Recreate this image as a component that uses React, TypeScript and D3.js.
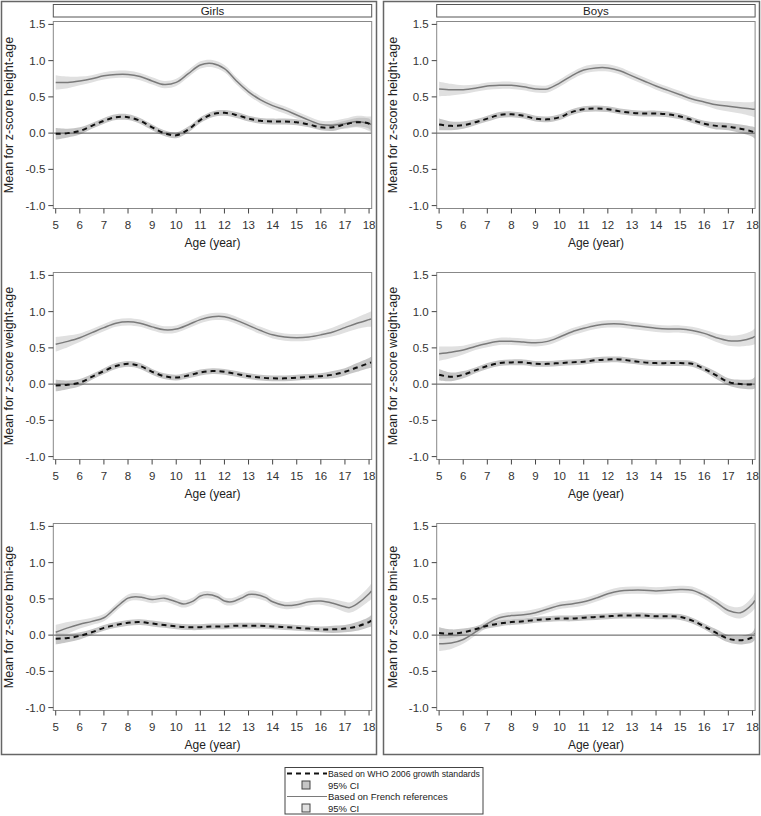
import React from "react";
import * as d3 from "d3";

// ---- data ----
const ages = [5, 5.5, 6, 6.5, 7, 7.5, 8, 8.5, 9, 9.5, 10, 10.5, 11, 11.5, 12, 12.5, 13, 13.5, 14, 14.5, 15, 15.5, 16, 16.5, 17, 17.5, 18, 18.1];
const xTicks = [5, 6, 7, 8, 9, 10, 11, 12, 13, 14, 15, 16, 17, 18];
const yTicks = [-1.0, -0.5, 0.0, 0.5, 1.0, 1.5];
const sexes = ["Girls", "Boys"];
const yLabels = ["Mean for z-score height-age", "Mean for z-score weight-age", "Mean for z-score bmi-age"];

const girlsHeightFrench = [0.70, 0.70, 0.72, 0.75, 0.79, 0.81, 0.81, 0.78, 0.72, 0.67, 0.70, 0.82, 0.94, 0.96, 0.89, 0.72, 0.57, 0.46, 0.38, 0.32, 0.25, 0.18, 0.12, 0.11, 0.13, 0.16, 0.13, 0.12];
const girlsHeightWho = [-0.01, 0.00, 0.03, 0.10, 0.17, 0.22, 0.22, 0.17, 0.08, 0.00, -0.03, 0.05, 0.18, 0.26, 0.28, 0.25, 0.20, 0.17, 0.16, 0.16, 0.15, 0.12, 0.08, 0.08, 0.12, 0.15, 0.13, 0.08];
const girlsWeightFrench = [0.55, 0.59, 0.64, 0.71, 0.78, 0.84, 0.86, 0.84, 0.79, 0.75, 0.76, 0.82, 0.89, 0.93, 0.93, 0.88, 0.81, 0.74, 0.68, 0.65, 0.64, 0.65, 0.68, 0.72, 0.78, 0.84, 0.89, 0.90];
const girlsWeightWho = [-0.02, -0.01, 0.02, 0.10, 0.18, 0.25, 0.28, 0.25, 0.17, 0.11, 0.09, 0.12, 0.16, 0.18, 0.17, 0.14, 0.11, 0.09, 0.08, 0.08, 0.09, 0.10, 0.11, 0.13, 0.17, 0.23, 0.29, 0.30];
const girlsBmiFrenchAges = [5, 5.5, 6, 6.5, 7, 7.5, 8, 8.3, 8.6, 9, 9.5, 10, 10.3, 10.7, 11, 11.3, 11.7, 12, 12.3, 12.7, 13, 13.3, 13.7, 14, 14.5, 15, 15.5, 16, 16.5, 17, 17.2, 17.5, 18, 18.1];
const girlsBmiFrench = [0.04, 0.10, 0.15, 0.19, 0.24, 0.38, 0.51, 0.53, 0.52, 0.49, 0.51, 0.46, 0.43, 0.47, 0.54, 0.56, 0.53, 0.47, 0.46, 0.51, 0.56, 0.56, 0.52, 0.46, 0.41, 0.42, 0.46, 0.47, 0.44, 0.39, 0.38, 0.43, 0.57, 0.61];
const girlsBmiWho = [-0.05, -0.04, -0.01, 0.04, 0.10, 0.14, 0.17, 0.18, 0.16, 0.14, 0.12, 0.11, 0.11, 0.12, 0.12, 0.13, 0.13, 0.13, 0.12, 0.11, 0.10, 0.09, 0.08, 0.08, 0.09, 0.12, 0.18, 0.20];
const boysHeightFrench = [0.61, 0.60, 0.60, 0.62, 0.65, 0.66, 0.66, 0.64, 0.61, 0.61, 0.69, 0.79, 0.87, 0.90, 0.90, 0.86, 0.79, 0.72, 0.65, 0.59, 0.53, 0.47, 0.43, 0.39, 0.37, 0.35, 0.33, 0.33];
const boysHeightWho = [0.12, 0.10, 0.11, 0.15, 0.20, 0.25, 0.26, 0.24, 0.20, 0.19, 0.22, 0.29, 0.33, 0.34, 0.33, 0.30, 0.28, 0.27, 0.27, 0.26, 0.23, 0.18, 0.13, 0.10, 0.09, 0.06, 0.02, 0.00];
const boysWeightFrench = [0.42, 0.44, 0.47, 0.52, 0.56, 0.59, 0.59, 0.58, 0.57, 0.59, 0.65, 0.72, 0.77, 0.81, 0.83, 0.83, 0.81, 0.79, 0.77, 0.76, 0.76, 0.74, 0.70, 0.64, 0.60, 0.60, 0.64, 0.66];
const boysWeightWho = [0.13, 0.10, 0.13, 0.19, 0.25, 0.29, 0.30, 0.30, 0.28, 0.28, 0.29, 0.30, 0.31, 0.33, 0.34, 0.34, 0.32, 0.30, 0.29, 0.29, 0.29, 0.28, 0.21, 0.12, 0.03, 0.00, 0.00, 0.02];
const boysBmiFrench = [-0.12, -0.11, -0.06, 0.04, 0.16, 0.24, 0.27, 0.28, 0.31, 0.36, 0.41, 0.43, 0.46, 0.51, 0.57, 0.61, 0.62, 0.62, 0.61, 0.62, 0.63, 0.62, 0.55, 0.45, 0.34, 0.31, 0.43, 0.48];
const boysBmiWho = [0.03, 0.02, 0.04, 0.08, 0.13, 0.16, 0.18, 0.19, 0.21, 0.22, 0.23, 0.23, 0.24, 0.25, 0.26, 0.27, 0.27, 0.27, 0.26, 0.26, 0.25, 0.20, 0.12, 0.03, -0.05, -0.07, -0.03, 0.02];

// 95% CI half-widths
const ciFrench = [0.10, 0.08, 0.06, 0.05, 0.05, 0.05, 0.05, 0.05, 0.05, 0.05, 0.05, 0.05, 0.05, 0.05, 0.05, 0.05, 0.05, 0.05, 0.05, 0.05, 0.05, 0.05, 0.05, 0.06, 0.07, 0.08, 0.10, 0.11];
const ciFrenchBmiGirls = [0.10, 0.08, 0.06, 0.05, 0.05, 0.05, 0.05, 0.05, 0.05, 0.05, 0.05, 0.05, 0.05, 0.05, 0.05, 0.05, 0.05, 0.05, 0.05, 0.05, 0.05, 0.05, 0.05, 0.05, 0.05, 0.05, 0.05, 0.05, 0.06, 0.07, 0.07, 0.08, 0.10, 0.11];
const ciWho = [0.08, 0.06, 0.05, 0.04, 0.04, 0.04, 0.04, 0.04, 0.04, 0.04, 0.04, 0.04, 0.04, 0.04, 0.04, 0.04, 0.04, 0.04, 0.04, 0.04, 0.04, 0.04, 0.04, 0.05, 0.05, 0.06, 0.07, 0.08];

const legendLabels = ["Based on WHO 2006 growth standards", "95% CI", "Based on French references", "95% CI"];

type Series = { x: number[]; y: number[]; ci: number[] };
const panels: { col: number; row: number; french: Series; who: Series }[] = [
  { col: 0, row: 0, french: { x: ages, y: girlsHeightFrench, ci: ciFrench }, who: { x: ages, y: girlsHeightWho, ci: ciWho } },
  { col: 0, row: 1, french: { x: ages, y: girlsWeightFrench, ci: ciFrench }, who: { x: ages, y: girlsWeightWho, ci: ciWho } },
  { col: 0, row: 2, french: { x: girlsBmiFrenchAges, y: girlsBmiFrench, ci: ciFrenchBmiGirls }, who: { x: ages, y: girlsBmiWho, ci: ciWho } },
  { col: 1, row: 0, french: { x: ages, y: boysHeightFrench, ci: ciFrench }, who: { x: ages, y: boysHeightWho, ci: ciWho } },
  { col: 1, row: 1, french: { x: ages, y: boysWeightFrench, ci: ciFrench }, who: { x: ages, y: boysWeightWho, ci: ciWho } },
  { col: 1, row: 2, french: { x: ages, y: boysBmiFrench, ci: ciFrench }, who: { x: ages, y: boysBmiWho, ci: ciWho } },
];

// ---- styles ----
const FONT = "'Liberation Sans', Arial, sans-serif";
const FRENCH_LINE = "#7a7a7a";
const FRENCH_BAND = "#e0e0e0";
const WHO_LINE = "#111111";
const WHO_BAND = "#c6c6c6";

const W = 761;
const H = 816;
const plotLefts = [53.3, 436.7];
const plotW = 318.4;
const rowStep = 251;
const frameTop = 21.5;
const frameBottom = 208.5;

function Panel({ p }: { p: (typeof panels)[number] }) {
  const left = plotLefts[p.col];
  const right = left + plotW;
  const off = p.row * rowStep;
  const x = d3.scaleLinear().domain([4.9, 18.11]).range([left, right]);
  const y = d3.scaleLinear().domain([-1.04, 1.54]).range([frameBottom + off, frameTop + off]);
  const curve = d3.curveCatmullRom.alpha(0.5);
  const line = (s: Series) =>
    d3.line<number>().x((_, i) => x(s.x[i])).y((v) => y(v)).curve(curve)(s.y) || "";
  const area = (s: Series) =>
    d3
      .area<number>()
      .x((_, i) => x(s.x[i]))
      .y0((v, i) => y(v - s.ci[i]))
      .y1((v, i) => y(v + s.ci[i]))
      .curve(curve)(s.y) || "";
  const top = frameTop + off;
  const bottom = frameBottom + off;
  const clipId = `clip-${p.col}-${p.row}`;
  return (
    <g>
      <defs>
        <clipPath id={clipId}>
          <rect x={left} y={top} width={plotW} height={bottom - top} />
        </clipPath>
      </defs>
      {p.row === 0 && (
        <g>
          <rect x={left} y={4.5} width={plotW} height={12.5} fill="#fff" stroke="#555" strokeWidth={1} />
          <text x={(left + right) / 2} y={14.8} textAnchor="middle" fontSize={11.5} fontFamily={FONT} fill="#222">
            {sexes[p.col]}
          </text>
        </g>
      )}
      <g clipPath={`url(#${clipId})`}>
        <path d={area(p.french)} fill={FRENCH_BAND} />
        <path d={area(p.who)} fill={WHO_BAND} />
        <line x1={left} x2={right} y1={y(0)} y2={y(0)} stroke="#555" strokeWidth={1} />
        <path d={line(p.french)} fill="none" stroke={FRENCH_LINE} strokeWidth={1.5} />
        <path d={line(p.who)} fill="none" stroke={WHO_LINE} strokeWidth={2} strokeDasharray="5,4" />
      </g>
      <rect x={left} y={top} width={plotW} height={bottom - top} fill="none" stroke="#888" strokeWidth={1} />
      {yTicks.map((t) => (
        <g key={t}>
          <line x1={left - 5} x2={left} y1={y(t)} y2={y(t)} stroke="#444" strokeWidth={1} />
          <text x={left - 8} y={y(t) + 4} textAnchor="end" fontSize={11.5} fontFamily={FONT} fill="#333">
            {t.toFixed(1)}
          </text>
        </g>
      ))}
      {xTicks.map((t) => (
        <g key={t}>
          <line x1={x(t)} x2={x(t)} y1={bottom} y2={bottom + 5} stroke="#444" strokeWidth={1} />
          <text x={x(t)} y={bottom + 20.5} textAnchor="middle" fontSize={11.5} fontFamily={FONT} fill="#333">
            {t}
          </text>
        </g>
      ))}
      <text x={(left + right) / 2} y={bottom + 38} textAnchor="middle" fontSize={12} fontFamily={FONT} fill="#222">
        Age (year)
      </text>
      <text
        transform={`translate(${left - 40},${(top + bottom) / 2}) rotate(-90)`}
        textAnchor="middle"
        fontSize={12.5}
        fontFamily={FONT}
        fill="#222"
      >
        {yLabels[p.row]}
      </text>
    </g>
  );
}

export default function App() {
  const lx = 285;
  const ly = 767.5;
  const rows = [773.5, 785, 796.5, 808];
  return (
    <svg width={W} height={H} style={{ position: "absolute", left: 0, top: 0, background: "#fff" }}>
      <rect x={0} y={0} width={W} height={H} fill="#fff" />
      <rect x={1.5} y={1.5} width={375} height={753} fill="none" stroke="#666" strokeWidth={1.5} />
      <rect x={383.5} y={1.5} width={376} height={753} fill="none" stroke="#666" strokeWidth={1.5} />
      {panels.map((p) => (
        <Panel key={`${p.col}-${p.row}`} p={p} />
      ))}
      <g>
        <rect x={lx} y={ly} width={198} height={46.5} fill="#fff" stroke="#444" strokeWidth={1} />
        <line x1={lx + 2} x2={lx + 42} y1={rows[0]} y2={rows[0]} stroke={WHO_LINE} strokeWidth={2} strokeDasharray="5,4" />
        <rect x={302} y={rows[1] - 4} width={8} height={8} fill={WHO_BAND} stroke="#444" strokeWidth={1} />
        <line x1={lx + 2} x2={lx + 42} y1={rows[2]} y2={rows[2]} stroke={FRENCH_LINE} strokeWidth={1.2} />
        <rect x={302} y={rows[3] - 4} width={8} height={8} fill={FRENCH_BAND} stroke="#444" strokeWidth={1} />
        {legendLabels.map((l, i) => (
          <text
            key={i}
            x={328}
            y={rows[i] + 3.5}
            fontSize={9.5}
            fontFamily={FONT}
            fill="#222"
            {...(i === 0 ? { textLength: 152, lengthAdjust: "spacingAndGlyphs" } : {})}
          >
            {l}
          </text>
        ))}
      </g>
    </svg>
  );
}
